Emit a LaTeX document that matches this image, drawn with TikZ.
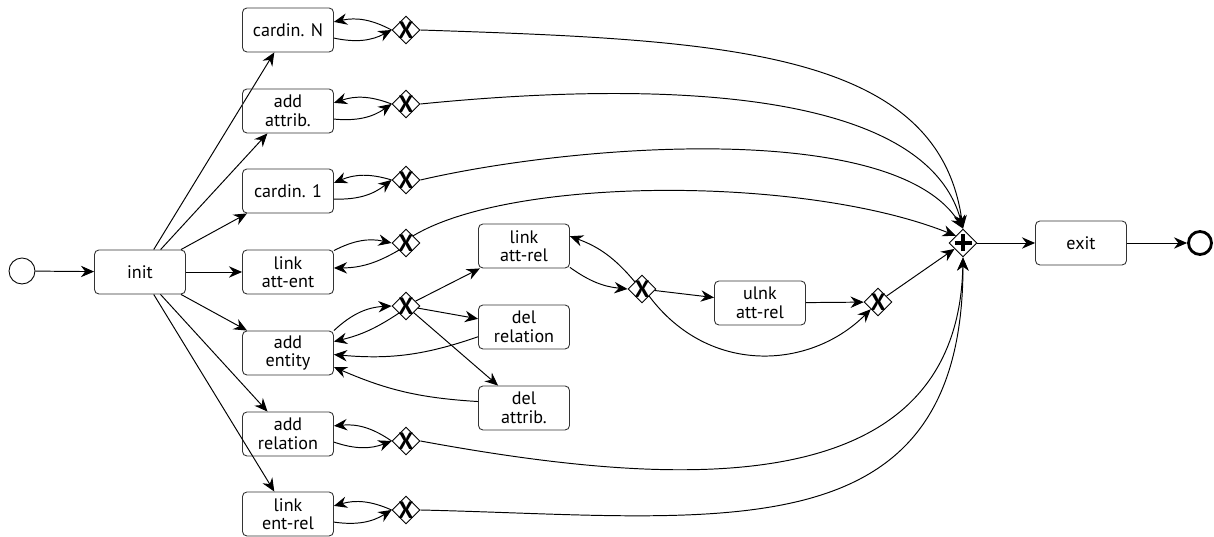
\documentclass[tikz,border=0pt]{standalone}
\usepackage{fontspec}
\setmainfont{PT Sans}
\usetikzlibrary{shapes.geometric,arrows.meta}
\begin{document}
\begin{tikzpicture}[
    x=0.02cm, y=0.02cm,
    line width=0.55pt,
    >={Stealth[length=7.5pt,width=6.5pt,inset=2.5pt]},
    task/.style={draw=black!80,line width=0.5pt,rounded corners=2.5pt,minimum width=1.82cm,minimum height=0.88cm,
      align=center,inner sep=1pt,font=\fontsize{10.3}{10.5}\selectfont},
    xgate/.style={draw,line width=0.5pt,diamond,minimum size=0.56cm,inner sep=0pt,
      label={[font=\fontsize{13.5}{13.5}\selectfont\bfseries,inner sep=0pt]center:X}},
    pgate/.style={draw,line width=0.5pt,diamond,minimum size=0.56cm,inner sep=0pt,
      path picture={\draw[line width=2.2pt] (path picture bounding box.center) ++(-8.5,0) -- ++(17,0)
        (path picture bounding box.center) ++(0,-8.5) -- ++(0,17);}},
    event/.style={draw,line width=0.5pt,circle,minimum size=0.52cm,inner sep=0pt}
  ]
  \useasboundingbox (0,0) rectangle (1214,537);

  \node[event] (start) at (22,266) {};
  \node[task] (init) at (140,265) {init};
  \draw[->] (start) -- (init);

  \foreach \name/\txt/\by/\gy in {cN/cardin. N/507/507, aA/add\\attrib./426/433, c1/cardin. 1/346/357,
      lAE/link\\att-ent/265/294, aE/add\\entity/184/231, aR/add\\relation/103/96, lER/link\\ent-rel/23/27} {
    \node[task] (\name) at (288,\by) {\txt};
    \node[xgate] (g\name) at (406,\gy) {};
    \draw[->] (init) -- (\name);
  }
  \foreach \name in {cN,aA,c1,aR,lER} {
    \draw[->] (\name.-10) to[bend right=20] (g\name.west);
    \draw[->] (g\name.west) to[bend right=20] (\name.10);
  }
  \draw[->] (lAE.25) to[bend left=20] (glAE.west);
  \draw[->] (glAE.south west) to[bend left=15] (lAE.5);

  \node[task] (lAR) at (524,291) {link\\att-rel};
  \node[task] (dR) at (524,210) {del\\relation};
  \node[task] (dA) at (524,129) {del\\attrib.};
  \draw[->] (aE.north east) to[bend left=20] (gaE.west);
  \draw[->] (gaE.south west) to[bend left=10] (aE.14);
  \draw[->] (gaE) -- (lAR);
  \draw[->] (gaE) -- (dR);
  \draw[->] (gaE) -- (dA);
  \draw[->] (dR.192) to[bend left=12] (aE.-2);
  \draw[->] (dA.172) to[bend left=10] (aE.-17);

  \node[xgate] (gAR) at (642,248) {};
  \node[task] (ulnk) at (760,234) {ulnk\\att-rel};
  \node[xgate] (gUl) at (878,235) {};
  \draw[->] (lAR.-25) to[bend right=15] (gAR.west);
  \draw[->] (gAR.north west) to[bend right=15] (lAR.12);
  \draw[->] (gAR) -- (ulnk);
  \draw[->] (ulnk) -- (gUl);
  \draw[->] (gAR.south east) .. controls +(60,-80) and +(-60,-60) .. (gUl.south west);

  \node[pgate] (join) at (963,294) {};
  \node[task] (exit) at (1081,294) {exit};
  \node[event,line width=1.6pt,minimum size=0.46cm] (end) at (1200,294) {};
  \draw[->] (gUl) -- (join);
  \draw[->] (join) -- (exit);
  \draw[->] (exit) -- (end);

  \draw[->] (gcN.east) .. controls +(300,-10) and +(-25,180) .. (join.north);
  \draw[->] (gaA.east) .. controls +(200,20) and +(-40,150) .. (join.north);
  \draw[->] (gc1.east) .. controls +(150,35) and +(-70,110) .. (join.north);
  \draw[->] (glAE.north east) .. controls +(100,60) and +(-150,60) .. (join.north west);
  \draw[->] (gaR.east) .. controls +(250,-46) and +(-5,-250) .. (join.south);
  \draw[->] (glER.east) .. controls +(300,-7) and +(0,-300) .. (join.south);
\end{tikzpicture}
\end{document}
